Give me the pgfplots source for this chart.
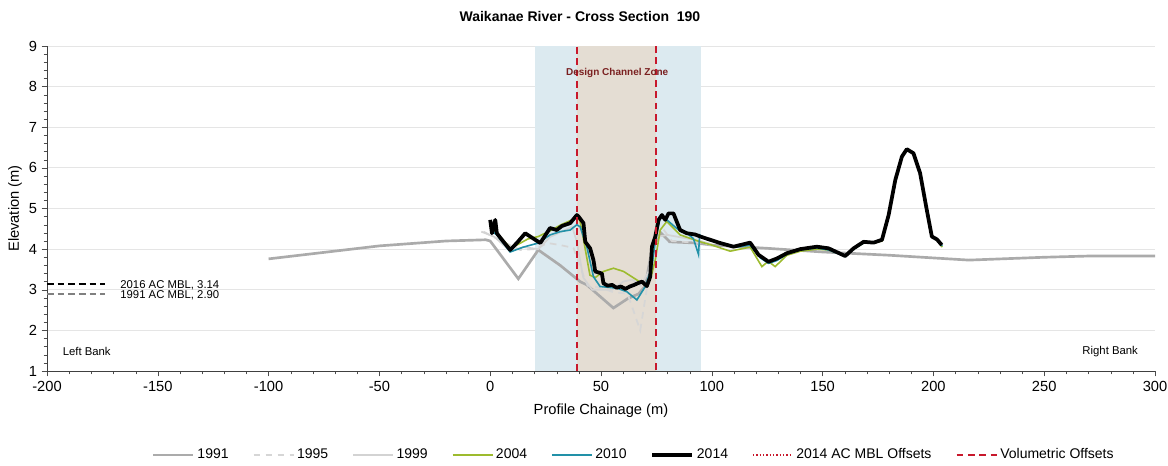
\documentclass[border=0pt]{standalone}
\usepackage{fontspec}
\setmainfont{Liberation Sans}
\usepackage{pgfplots}
\pgfplotsset{compat=1.18}
\definecolor{c1991}{HTML}{ABABAB}
\definecolor{c1995}{HTML}{D6D6D6}
\definecolor{c1999}{HTML}{D3D3D3}
\definecolor{c2004}{HTML}{9DBB2E}
\definecolor{c2010}{HTML}{2291A8}
\definecolor{cred}{HTML}{C8182C}
\definecolor{zoneblue}{HTML}{DCEAF0}
\definecolor{zonebrown}{HTML}{E4DDD3}
\definecolor{dczred}{HTML}{7A2020}
\begin{document}
\begin{tikzpicture}
\path[use as bounding box] (-35.25pt,-70.5pt) rectangle (840.75pt,278.25pt);
\begin{axis}[
  at={(0,0)}, anchor=south west, scale only axis,
  width=831pt, height=243.75pt,
  xmin=-200, xmax=300, ymin=1, ymax=9,
  unbounded coords=jump,
  axis lines=left, axis line style={-, black!75},
  tick align=outside, major tick length=4pt, minor tick length=2.5pt,
  tick style={black!70},
  xtick={-200,-150,-100,-50,0,50,100,150,200,250,300},
  xticklabels={-200,-150,-100,-50,0,50,100,150,200,250,300},
  ytick={1,2,3,4,5,6,7,8,9},
  yticklabels={1,2,3,4,5,6,7,8,9},
  minor x tick num=4, minor y tick num=4,
  ymajorgrids, grid style={black!10, line width=0.6pt},
  ticklabel style={font=\fontsize{11}{12}\selectfont},
  title={Waikanae River - Cross Section\ \ 190},
  title style={at={(axis description cs:0.481,1.066)}, anchor=center, font=\bfseries\fontsize{10.5}{12}\selectfont},
  xlabel={Profile Chainage (m)},
  xlabel style={at={(axis description cs:0.5,-0.123)}, anchor=center, font=\fontsize{11}{12}\selectfont},
  ylabel={Elevation (m)},
  ylabel style={at={(axis description cs:-0.0289,0.5)}, anchor=center, font=\fontsize{11}{12}\selectfont},
  legend columns=8,
  legend style={at={(axis description cs:0.53,-0.258)}, anchor=center, draw=none, fill=none,
    font=\fontsize{10.5}{12}\selectfont,
    /tikz/every even column/.append style={column sep=16pt}},
  legend image code/.code={\draw[#1] (0pt,0pt) -- (30pt,0pt);},
]
% zones
\addplot[fill=zoneblue, draw=none, forget plot] coordinates {(20,1) (95,1) (95,9) (20,9)} -- cycle;
\addplot[fill=zonebrown, draw=none, forget plot] coordinates {(39.3,1) (75,1) (75,9) (39.3,9)} -- cycle;
% MBL reference lines
\addplot[black, line width=1.6pt, dash pattern=on 5pt off 3pt, forget plot] coordinates {(-200,3.14) (-174,3.14)};
\addplot[black!50, line width=1.6pt, dash pattern=on 5pt off 3pt, forget plot] coordinates {(-200,2.90) (-174,2.90)};
% 1991
\addplot[c1991, line width=2pt] coordinates {
(-100,3.76) (-50,4.08) (-20,4.2) (-2,4.23) (0,4.2) (12.7,3.27) (21.7,3.98) (31.6,3.6) (40.6,3.2) (43.6,3.12)
(55.6,2.55) (62,2.78) (67,2.9) (70,3.1) (73,4.0) (77,4.4) (81,4.18) (93,4.15) (100,4.1) (125,4.02)
(150,3.93) (180,3.85) (216,3.73) (250,3.8) (270,3.83) (300,3.83)};
\addlegendentry{1991}
% 1995
\addplot[c1995, line width=1.3pt, dash pattern=on 5pt off 4pt] coordinates {
(-3,4.43) (5,4.2) (13.5,3.98) (20,4.0) (26,4.15) (31.6,4.1) (37.6,4.03) (41,3.5) (44,3.1) (50,3.05)
(55,2.95) (62,2.9) (67.7,2.0) (70.8,3.07) (73.7,4.3) (78,4.5) (82,4.2) (95,4.15) (100,4.1)};
\addlegendentry{1995}
% 1999
\addplot[c1999, line width=1.3pt] coordinates {
(-4,4.43) (2,4.3) (9,3.95) (15,4.05) (21.7,4.0) (27,4.3) (33,4.45) (37,4.55) (39,4.2) (42,3.3)
(46,3.0) (55,3.0) (60,3.2) (64,3.25) (68,3.1) (72,3.5) (75,4.3) (80,4.35) (95,4.2) (100,4.12)};
\addlegendentry{1999}
% 2004
\addplot[c2004, line width=1.2pt] coordinates {
(0.5,4.55) (3,4.4) (9,4.03) (12,4.1) (17,4.25) (21.7,4.31) (27,4.45) (32,4.6) (36.1,4.7) (39.1,4.79)
(40.5,4.7) (42,4.27) (45,3.36) (47.4,3.3) (51.1,3.45) (55.6,3.53) (60.2,3.45) (66.2,3.24) (70.7,3.09) (72.5,3.3)
(74.5,3.73) (76.7,4.47) (79.7,4.68) (85.7,4.35) (94.8,4.18) (100,4.1) (108.3,3.95) (117.3,4.05) (122.6,3.57) (125.5,3.7)
(128.6,3.57) (133.9,3.85) (140,3.95) (147.4,4.0) (152.7,3.98) (160.2,3.83) (164,4.0) (168.5,4.15) (173,4.15) (176.8,4.2)
(179.8,4.8) (182.8,5.65) (185.8,6.25) (188,6.45) (191,6.38) (194,5.85) (197,4.95) (199.3,4.3) (201.6,4.22) (204,4.05)};
\addlegendentry{2004}
% 2010
\addplot[c2010, line width=1.2pt] coordinates {
(0.5,4.45) (3,4.35) (9,3.93) (15,4.05) (21.7,4.15) (27,4.35) (31.6,4.43) (36.1,4.47) (39.1,4.6) (40.6,4.55)
(43.6,4.06) (46.6,3.32) (49.6,3.08) (57.2,3.04) (61.7,2.95) (66.2,2.75) (70,3.08) (73,3.57) (74.5,4.2) (76.7,4.8)
(79.7,4.72) (84.2,4.51) (88.8,4.39) (91.7,4.26) (94,3.87) (94.5,4.35) (98,4.23) (105,4.12) (111,4.05) (117.3,4.1)
(122,3.78) (125.6,3.65) (129.4,3.72) (134,3.88) (140,3.98) (147.4,4.03) (152.7,3.98) (160.2,3.82) (164,4.0) (168.5,4.15)
(173,4.15) (176.8,4.22) (179.8,4.8) (182.8,5.65) (185.8,6.25) (188,6.44) (191,6.35) (194,5.85) (197,4.95) (199.3,4.3)
(201.6,4.22) (204,4.08)};
\addlegendentry{2010}
% 2014
\addplot[black, line width=2.8pt, line join=round] coordinates {
(0,4.72) (0.8,4.39) (2.3,4.72) (3,4.39) (5.3,4.23) (9,3.98) (12,4.15) (15.8,4.39) (22.6,4.15) (27,4.52)
(30,4.47) (32.4,4.57) (36.1,4.64) (39.1,4.84) (39.9,4.8) (42.1,4.64) (42.9,4.18) (45.1,4.02) (46.6,3.73) (47.4,3.45)
(50.4,3.4) (51.1,3.16) (53,3.1) (55,3.12) (57,3.05) (59,3.08) (61,3.02) (63,3.08) (65,3.12) (67,3.17)
(68.5,3.2) (70.7,3.09) (72.2,3.32) (73,4.06) (74.5,4.31) (76,4.72) (77.5,4.84) (79,4.72) (80.5,4.88) (82.7,4.88)
(85.7,4.47) (88.8,4.39) (92.5,4.36) (94.8,4.31) (103.8,4.15) (109.8,4.06) (117.3,4.16) (121.1,3.86) (125.6,3.69) (129.4,3.77)
(133.9,3.9) (139.9,4.0) (147.4,4.06) (152.7,4.02) (160.2,3.83) (164,4.02) (168.5,4.18) (173,4.16) (176.8,4.23) (179.8,4.84)
(182.8,5.7) (185.8,6.28) (188,6.46) (191,6.36) (194,5.87) (197,4.97) (199.3,4.31) (201.6,4.24) (203.8,4.1)};
\addlegendentry{2014}
% offsets (2014 AC MBL offsets coincide with the volumetric offsets)
\addlegendimage{cred, line width=1.2pt, dash pattern=on 1pt off 1.5pt}
\addlegendentry{2014 AC MBL Offsets}
\addplot[cred, line width=1.6pt, dash pattern=on 5pt off 3.5pt] coordinates {(39.3,1) (39.3,9) (nan,nan) (75,9) (75,1)};
\addlegendentry{Volumetric Offsets}
% text annotations
\node[anchor=west, font=\fontsize{8.5}{9}\selectfont, inner sep=0pt] at (axis cs:-167,3.12) {2016 AC MBL, 3.14};
\node[anchor=west, font=\fontsize{8.5}{9}\selectfont, inner sep=0pt] at (axis cs:-167,2.87) {1991 AC MBL, 2.90};
\node[anchor=west, font=\fontsize{8.5}{9}\selectfont, inner sep=0pt] at (axis cs:-193,1.48) {Left Bank};
\node[anchor=east, font=\fontsize{8.5}{9}\selectfont, inner sep=0pt] at (axis cs:292.4,1.48) {Right Bank};
\node[anchor=center, font=\bfseries\fontsize{7.5}{8}\selectfont, text=dczred, inner sep=0pt] at (axis cs:57.3,8.34) {Design Channel Zone};
\end{axis}
\end{tikzpicture}
\end{document}
